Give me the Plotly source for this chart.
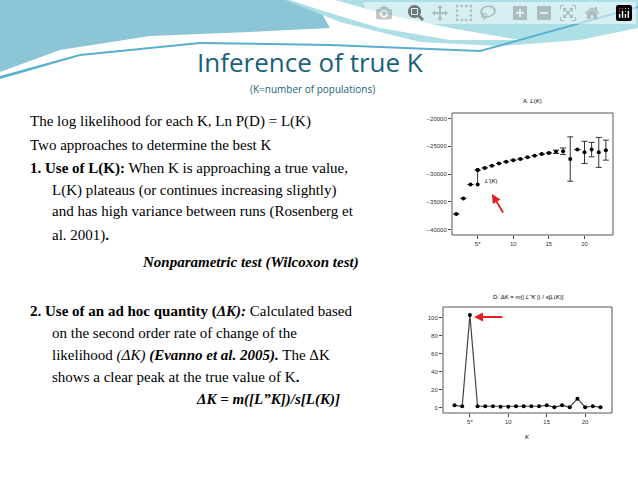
import plotly.graph_objects as go

W, H = 638, 478
kA = list(range(2, 24))
LK = [-37200, -34400, -31900, -29300, -28900, -28500, -28100, -27800, -27500, -27300, -27000,
      -26700, -26400, -26200, -26000, -25900, -27300, -25600, -26100, -25600, -26100, -25700]
LK_err = [0, 0, 0, 0, 0, 0, 0, 0, 0, 0, 0, 0, 0, 0, 300, 600, 4000, 0, 2000, 1300, 2700, 1800]
kB = list(range(3, 23))
dK = [2.5, 1.5, 103, 1.5, 1.5, 1.5, 1, 1, 1.5, 1.5, 1.5, 1.5, 2.5, 0.5, 2.5, 0.5, 10, 0.5, 1.5, 0.5]
ticksK = [5, 10, 15, 20]
tickTextK = ["5*", "10", "15", "20"]

def px(x): return x / W
def py(y): return 1 - y / H

fig = go.Figure()
fig.add_trace(go.Scatter(x=kA, y=LK, mode="markers", marker=dict(color="black", size=4),
                         error_y=dict(type="data", array=LK_err, color="#333", thickness=1, width=3),
                         xaxis="x", yaxis="y", showlegend=False))
fig.add_trace(go.Scatter(x=[5, 5], y=[-29300, -31900], mode="lines+markers",
                         line=dict(color="#333", width=1), marker=dict(color="black", size=4),
                         xaxis="x", yaxis="y", showlegend=False))
fig.add_trace(go.Scatter(x=kB, y=dK, mode="lines+markers", line=dict(color="#444", width=1.2),
                         marker=dict(color="black", size=4), xaxis="x2", yaxis="y2", showlegend=False))

ax_common = dict(showgrid=False, zeroline=False, ticks="outside", ticklen=3, tickcolor="#444",
                 tickfont=dict(size=6, family="Liberation Sans", color="#333"), showline=False)
fig.update_layout(
    width=W, height=H, margin=dict(l=0, r=0, t=0, b=0), plot_bgcolor="white", paper_bgcolor="white",
    xaxis=dict(domain=[px(452), px(613)], range=[1.4, 24], tickvals=ticksK, ticktext=tickTextK,
               anchor="y", **ax_common),
    yaxis=dict(domain=[py(235), py(113)], range=[-41000, -19000], tickvals=[-40000, -35000, -30000, -25000, -20000],
               tickformat="d", anchor="x", **ax_common),
    xaxis2=dict(domain=[px(443), px(612)], range=[1.5, 23.5], tickvals=ticksK, ticktext=tickTextK,
                anchor="y2", **ax_common),
    yaxis2=dict(domain=[py(413), py(307)], range=[-6, 112], tickvals=[0, 20, 40, 60, 80, 100],
                anchor="x2", **ax_common),
)
shapes = [
    dict(type="rect", xref="paper", yref="paper", x0=px(452), x1=px(613), y0=py(235), y1=py(113),
         line=dict(color="#555", width=1)),
    dict(type="rect", xref="paper", yref="paper", x0=px(443), x1=px(612), y0=py(413), y1=py(307),
         line=dict(color="#555", width=1)),
]
def path(pts):
    return "M " + " L ".join(f"{px(x)},{py(y)}" for x, y in pts) + " Z"
left = [(0, 0), (300, 0), (320, 10), (330, 28), (250, 32), (150, 36), (60, 50), (0, 72)]
right = [(285, 0), (638, 0), (638, 28), (580, 40), (500, 46), (420, 42), (340, 22)]
white = [(290, 0), (335, 0), (385, 14), (450, 28), (520, 40), (450, 40), (380, 28), (320, 10)]
line1 = [(0, 76), (80, 54), (200, 42), (330, 44), (480, 50), (638, 6), (638, 8), (480, 52), (330, 46), (200, 44), (80, 56), (0, 79)]
for pts, col in [(left, "#8cc6d6"), (right, "#acdfe6"), (white, "white"), (line1, "#5aaed0")]:
    shapes.append(dict(type="path", xref="paper", yref="paper", path=path(pts),
                       fillcolor=col, line=dict(width=0), layer="below"))
fig.update_layout(shapes=shapes)

serif = "Liberation Serif"
ann = []
def T(x, y, text, size=15, xanchor="left", family=serif, color="black"):
    ann.append(dict(x=px(x), y=py(y), xref="paper", yref="paper", text=text, showarrow=False,
                    xanchor=xanchor, yanchor="middle", font=dict(size=size, family=family, color=color)))
T(310, 62, "Inference of true K", 26, "center", "Open Sans", "#1a5f7a")
T(312, 89, "(K=number of populations)", 10, "center", "Open Sans", "#1a5f7a")
T(28, 122, "The log likelihood for each K, Ln P(D) = L(K)")
T(28, 145, "Two approaches to determine the best K")
T(28, 168, "<b>1. Use of L(K):</b> When K is approaching a true value,")
T(50, 190, "L(K) plateaus (or continues increasing slightly)")
T(50, 212, "and has high variance between runs (Rosenberg et")
T(50, 235, "al. 2001)<b>.</b>")
T(250, 262, "<b><i>Nonparametric test (Wilcoxon test)</i></b>", 15, "center")
T(28, 311, "<b>2. Use of an ad hoc quantity (</b><b><i>ΔK):</i></b> Calculated based")
T(50, 333, "on the second order rate of change of the")
T(50, 355, "likelihood <i>(ΔK) </i><b><i>(Evanno et al. 2005).</i></b> The ΔK")
T(50, 377, "shows a clear peak at the true value of K<b>.</b>")
T(268, 399, "<b><i>ΔK = m([L”K])/s[L(K)]</i></b>", 15, "center")
T(532, 101, "A. <i>L</i>(<i>K</i>)", 6, "center", "Liberation Sans")
T(528, 297, "D. ΔK = <i>m</i>(| <i>L''K</i> |) / <i>s</i>[<i>L</i>(<i>K</i>)]", 6, "center", "Liberation Sans")
T(483, 181, "<i>L'</i>(<i>K</i>)", 6, "left", "Liberation Sans")
T(527, 437, "<i>K</i>", 6, "center", "Liberation Sans")
ann.append(dict(x=px(492), y=py(194), xref="paper", yref="paper", ax=12, ay=20, showarrow=True,
                arrowhead=2, arrowsize=1, arrowwidth=1.8, arrowcolor="#e02020", text=""))
ann.append(dict(x=px(474), y=py(317), xref="paper", yref="paper", ax=30, ay=0, showarrow=True,
                arrowhead=2, arrowsize=1, arrowwidth=1.8, arrowcolor="#e02020", text=""))
fig.update_layout(annotations=ann)
fig.write_html("out.html", post_script="document.body.style.margin='0';document.body.style.overflow='hidden';")
